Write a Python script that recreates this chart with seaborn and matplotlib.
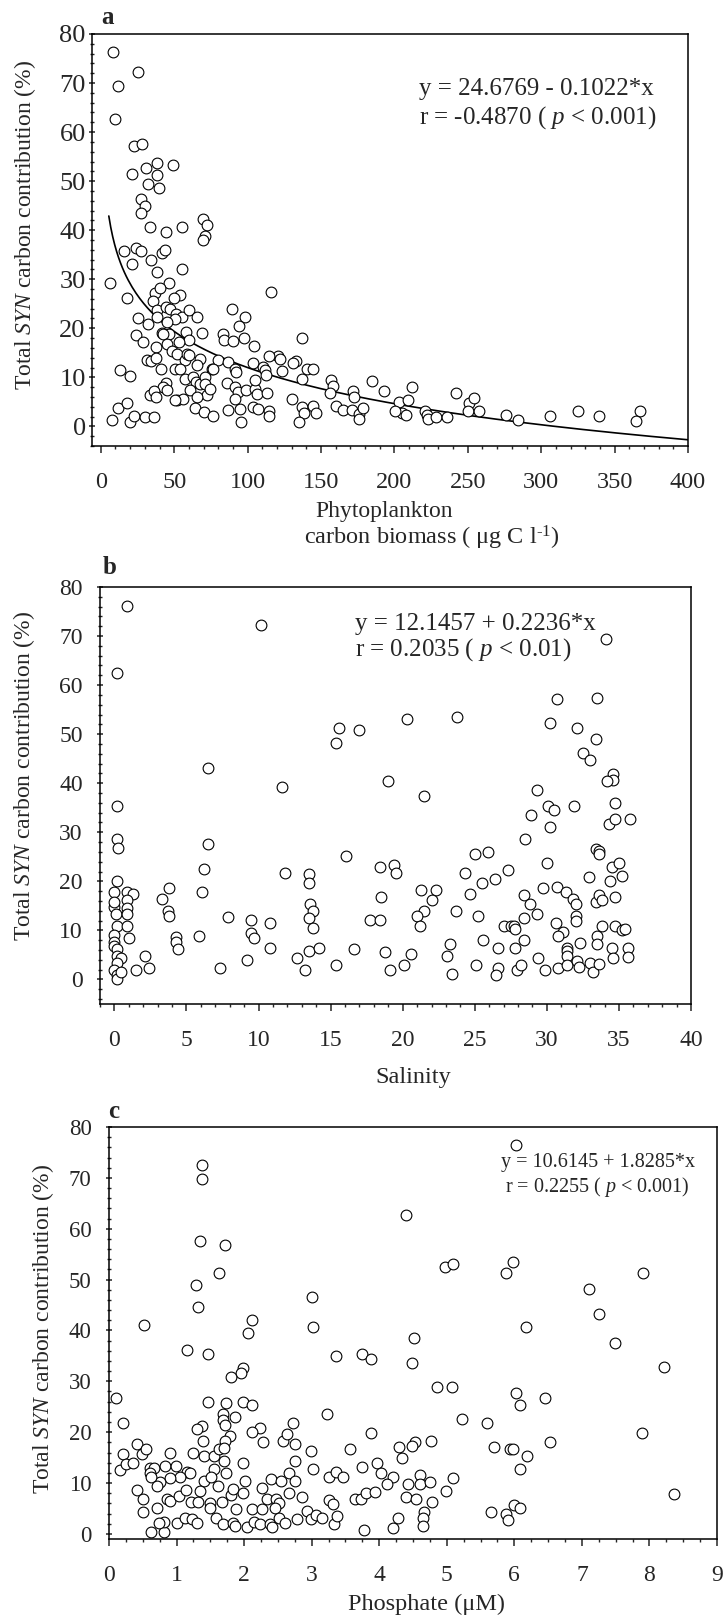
import numpy as np
import pandas as pd
import matplotlib
matplotlib.use("Agg")
import matplotlib.pyplot as plt
import seaborn as sns
from matplotlib.ticker import MultipleLocator

# ---- panel a : phytoplankton carbon biomass vs SYN contribution ----
biomass_x = [8.0, 25.5, 11.8, 9.5, 22.7, 28.0, 31.1, 38.4, 49.3, 21.4, 38.4, 32.3, 39.8, 27.5, 29.8, 27.5,
             33.4, 44.3, 55.2, 69.8, 72.0, 71.1, 69.8, 6.1, 15.7, 23.9, 27.5, 21.4, 34.5, 42.0, 43.6, 38.4,
             55.2, 18.0, 36.8, 35.7, 46.6, 40.5, 53.9, 49.8, 25.0, 32.3, 38.4, 38.4, 44.3, 47.0, 51.1, 55.0,
             60.2, 65.2, 50.7, 57.9, 60.2, 42.0, 46.6, 44.8, 89.1, 98.4, 115.7, 93.9, 97.7, 104.3, 83.4, 84.1,
             89.8, 68.6, 23.9, 28.9, 31.8, 34.5, 37.5, 42.5, 44.8, 37.5, 40.9, 48.2, 52.0, 57.3, 58.9, 67.5,
             65.2, 75.5, 79.5, 86.4, 91.4, 92.0, 103.9, 110.7, 111.8, 120.9, 122.3, 133.0, 123.2, 137.3, 137.1,
             140.2, 144.8, 12.9, 20.2, 44.3, 42.5, 33.6, 36.5, 37.7, 44.8, 52.0, 50.5, 53.9, 60.2, 57.3, 62.5,
             64.8, 60.7, 67.5, 70.9, 70.9, 72.0, 76.1, 74.3, 65.2, 64.1, 70.2, 76.1, 56.1, 50.5, 11.8, 18.0,
             20.2, 22.7, 7.3, 30.0, 36.1, 85.7, 91.4, 93.6, 91.4, 98.9, 105.0, 106.1, 105.0, 113.0, 86.8, 94.8,
             95.2, 103.9, 107.3, 114.8, 114.8, 130.0, 136.8, 138.4, 144.8, 146.6, 135.2, 156.6, 158.4, 156.1,
             160.2, 165.2, 171.6, 171.4, 176.1, 178.4, 184.5, 193.0, 203.4, 205.0, 209.5, 211.8, 200.5, 131.1,
             172.6, 175.9, 208.2, 220.8, 222.0, 223.0, 228.6, 235.8, 242.1, 250.6, 254.4, 250.3, 257.9, 275.8,
             284.3, 305.7, 325.2, 339.3, 367.0, 364.8, 53.1, 112.6, 114.5]
biomass_y = [76.3, 72.3, 69.4, 62.7, 57.2, 57.6, 52.6, 53.6, 53.3, 51.4, 51.2, 49.4, 48.6, 46.4, 45.0, 43.6,
             40.7, 39.7, 40.7, 42.2, 41.0, 38.9, 38.1, 29.3, 35.8, 36.3, 35.8, 33.2, 34.0, 35.4, 35.9, 31.4,
             32.1, 26.1, 27.1, 25.6, 29.3, 28.3, 26.7, 26.1, 22.0, 20.9, 23.7, 22.3, 24.3, 24.0, 22.9, 22.4,
             23.7, 22.4, 21.9, 19.3, 17.6, 19.1, 18.8, 21.2, 23.9, 22.4, 27.4, 20.4, 18.1, 16.3, 18.9, 17.6,
             17.4, 19.1, 18.6, 17.2, 13.5, 13.3, 16.1, 18.8, 16.7, 13.9, 11.8, 15.4, 14.7, 13.6, 14.8, 13.8,
             12.5, 11.8, 13.6, 13.1, 11.8, 11.1, 13.0, 12.2, 11.4, 14.3, 13.7, 13.3, 11.2, 18.1, 9.7,
             11.8, 11.6, 11.4, 10.2, 8.8, 8.0, 6.4, 7.2, 6.0, 7.5, 5.4, 11.6, 11.8, 14.5, 9.6, 10.0,
             9.0, 7.5, 8.7, 10.0, 8.7, 6.3, 11.8, 7.7, 6.0, 3.8, 2.9, 2.2, 5.6, 5.3, 3.8, 4.8,
             0.9, 2.2, 1.2, 1.9, 1.9, 8.8, 8.0, 7.0, 5.6, 7.5, 7.7, 6.7, 9.4, 6.8, 3.4, 3.6,
             0.9, 3.9, 3.6, 3.1, 2.2, 5.6, 4.0, 2.7, 4.1, 2.7, 0.9, 9.4, 8.2, 6.9,
             4.1, 3.4, 7.2, 3.4, 2.6, 3.8, 9.3, 7.3, 5.0, 2.7, 5.4, 8.0, 3.1, 13.0,
             6.0, 1.6, 2.3, 3.2, 2.3, 1.5, 2.0, 2.0, 6.8, 4.8, 5.7, 3.2, 3.2, 2.3,
             1.4, 2.1, 3.2, 2.1, 3.2, 1.1, 17.2, 10.5, 14.4]

# log curve drawn in panel a
FIT_A = 60.9
FIT_B = 10.62
FIT_X0, FIT_X1 = 5.45, 400

# ---- panel b : salinity ----
salinity_x = [0.85, 10.2, 34.1, 0.16, 30.7, 33.5, 23.8, 20.3, 15.6, 17.0, 15.4, 30.2, 32.1, 33.4, 32.5, 33.0,
              6.5, 19.0, 11.6, 21.5, 29.3, 34.6, 34.6, 34.2, 34.7, 31.9, 30.1, 30.5, 28.9, 30.2, 34.3, 34.7,
              35.8, 0.16, 0.16, 0.28, 6.5, 28.5, 33.4, 33.6, 33.6, 16.1, 25.0, 25.9, 6.2, 11.8, 13.5, 13.5,
              18.4, 19.4, 19.5, 24.3, 27.3, 30.0, 32.9, 34.5, 35.0, 35.2, 34.4, 25.5, 26.4, 0.16, 0.0, 0.85,
              1.3, 3.8, 3.3, 6.1, 21.3, 22.3, 22.0, 18.5, 24.7, 29.7, 30.7, 31.3, 31.8, 32.0, 33.4, 33.6,
              33.8, 34.7, 28.4, 28.8, 0.85, 0.85, 0.0, 0.0, 0.13, 0.85, 3.7, 3.8, 13.6, 13.8, 13.5, 13.8,
              7.9, 9.5, 10.8, 21.5, 23.7, 17.7, 18.4, 21.0, 21.2, 25.2, 29.3, 28.4, 32.0, 32.0, 27.0, 27.5,
              27.7, 27.8, 30.6, 31.1, 30.8, 33.8, 34.7, 35.2, 35.4, 33.5, 33.5, 0.16, 0.85, 0.0, 1.0, 0.0,
              0.0, 0.16, 0.16, 0.44, 0.16, 0.0, 0.16, 0.16, 0.44, 1.5, 2.4, 2.1, 4.3, 4.3, 4.4, 5.9,
              9.5, 9.7, 10.8, 9.2, 7.3, 12.7, 13.2, 13.5, 14.2, 15.4, 16.6, 18.8, 19.1, 20.1, 20.6, 23.3,
              23.1, 23.4, 25.1, 25.6, 26.6, 26.6, 26.5, 27.8, 27.9, 28.2, 28.4, 29.4, 29.9, 30.8, 31.4, 31.4,
              31.4, 31.4, 32.1, 32.2, 32.3, 33.0, 33.2, 33.6, 34.5, 34.6, 35.6, 35.6]
salinity_y = [76.2, 72.2, 69.3, 62.5, 57.1, 57.4, 53.4, 53.0, 51.2, 50.9, 48.3, 52.3, 51.2, 49.0, 46.1, 44.7,
              43.2, 40.4, 39.3, 37.5, 38.6, 41.8, 40.7, 40.4, 36.0, 35.3, 35.3, 34.6, 33.5, 31.0, 31.7, 32.8,
              32.8, 35.3, 28.7, 26.9, 27.7, 28.7, 26.6, 26.2, 25.5, 25.2, 25.6, 25.9, 22.6, 21.8, 21.6, 19.7,
              23.0, 23.4, 21.8, 21.8, 22.3, 23.7, 20.9, 23.0, 23.7, 21.1, 20.0, 19.7, 20.5, 20.0, 17.9, 17.9,
              17.5, 18.6, 16.5, 17.9, 18.2, 18.2, 16.1, 16.8, 17.5, 18.7, 18.9, 17.9, 16.5, 15.4, 15.8, 17.2,
              16.1, 16.8, 17.2, 15.4, 16.1, 14.5, 14.8, 15.8, 13.3, 13.3, 14.0, 12.9, 15.4, 14.0, 12.6, 10.4,
              12.8, 12.2, 11.5, 14.0, 14.0, 12.1, 12.1, 12.9, 11.0, 12.9, 13.3, 12.6, 12.9, 11.9, 11.0, 11.0,
              11.0, 10.2, 11.5, 9.7, 8.8, 11.0, 11.0, 10.1, 10.2, 8.9, 7.2, 10.8, 11.0, 9.0, 8.5, 7.6,
              6.9, 6.2, 4.8, 4.4, 3.3, 1.9, 0.85, 0.0, 1.6, 1.9, 2.3, 4.8, 8.7, 7.6, 6.2, 8.8,
              9.5, 8.5, 6.5, 4.0, 2.3, 4.4, 1.9, 5.8, 6.5, 3.0, 6.2, 5.6, 1.9, 3.0, 5.1, 7.2,
              4.8, 1.2, 3.0, 8.1, 6.5, 2.3, 0.85, 6.5, 1.9, 3.0, 8.1, 4.4, 1.9, 2.3, 6.5, 5.8,
              4.8, 3.0, 3.7, 2.6, 7.4, 3.3, 1.6, 3.1, 6.5, 4.4, 6.5, 4.5]

# ---- panel c : phosphate ----
phosphate_x = [6.02, 1.37, 1.37, 4.39, 1.34, 1.71, 1.63, 5.88, 5.98, 4.97, 5.09, 7.90, 1.29, 1.32, 3.00, 3.02,
               7.11, 7.25, 6.18, 7.49, 8.22, 0.52, 2.11, 2.06, 4.52, 4.49, 1.15, 1.47, 3.36, 3.74, 3.88, 1.99,
               1.95, 1.80, 4.85, 5.08, 6.02, 6.09, 6.46, 0.11, 1.47, 1.73, 1.99, 2.12, 1.69, 1.69, 1.87, 1.71,
               0.21, 2.73, 3.23, 5.23, 5.59, 1.37, 1.31, 2.23, 2.12, 7.89, 3.88, 1.39, 1.79, 1.71, 2.28, 2.57,
               2.64, 2.75, 4.77, 4.53, 4.48, 4.30, 6.53, 5.70, 5.94, 5.98, 6.19, 6.09, 0.42, 0.21, 0.49, 0.55,
               0.91, 1.25, 1.40, 1.55, 1.63, 1.70, 1.70, 1.73, 1.55, 1.99, 2.99, 3.02, 3.57, 3.75, 3.96, 4.03,
               4.34, 2.75, 2.66, 0.17, 0.25, 0.35, 0.60, 0.67, 0.60, 0.83, 0.99, 1.15, 1.20, 1.05, 0.91, 0.76,
               0.62, 1.41, 1.51, 1.62, 2.02, 2.26, 2.40, 2.54, 2.76, 3.26, 3.36, 3.47, 4.20, 4.12, 4.42, 4.60,
               4.60, 4.75, 5.09, 0.71, 0.42, 0.50, 0.50, 0.71, 0.86, 0.90, 1.03, 1.14, 1.22, 1.32, 1.34, 1.49,
               1.49, 1.68, 1.80, 1.84, 1.88, 1.99, 2.11, 2.26, 2.34, 2.47, 2.52, 2.45, 2.66, 2.86, 2.93, 3.26,
               3.31, 3.64, 3.73, 3.80, 3.94, 4.39, 4.55, 4.78, 4.99, 4.67, 4.65, 4.65, 5.66, 5.88, 5.90, 6.00,
               6.09, 8.36, 0.62, 0.81, 0.81, 0.74, 1.00, 1.12, 1.23, 1.31, 1.58, 1.69, 1.84, 1.87, 2.04, 2.15,
               2.23, 2.39, 2.41, 2.52, 2.60, 2.78, 2.99, 3.06, 3.15, 3.33, 3.38, 3.78, 4.21, 4.28]
phosphate_y = [76.5, 72.5, 69.7, 62.7, 57.5, 56.8, 51.3, 51.3, 53.4, 52.5, 53.0, 51.3, 48.9, 44.7, 46.5, 40.6,
               48.2, 43.3, 40.6, 37.5, 32.9, 41.0, 42.0, 39.5, 38.5, 33.6, 36.1, 35.3, 35.0, 35.3, 34.4, 32.7,
               31.7, 30.9, 28.9, 28.9, 27.7, 25.3, 26.7, 26.8, 26.0, 25.7, 26.0, 25.3, 23.6, 22.4, 23.0, 21.5,
               21.9, 21.9, 23.6, 22.5, 21.9, 21.3, 20.6, 20.9, 20.0, 19.8, 19.8, 18.3, 19.2, 18.3, 18.0, 18.3,
               19.6, 17.7, 18.3, 18.1, 17.3, 17.0, 18.0, 17.0, 16.6, 16.6, 15.3, 12.8, 17.7, 15.8, 15.8, 16.6,
               16.0, 16.0, 15.3, 15.3, 16.6, 16.8, 14.3, 12.0, 12.8, 13.9, 16.3, 12.8, 16.6, 13.2, 13.9, 12.0,
               14.9, 14.3, 11.9, 12.6, 13.7, 13.9, 12.9, 12.9, 11.9, 13.4, 13.4, 12.2, 12.0, 11.2, 10.9, 10.2,
               11.2, 10.4, 11.1, 9.5, 10.4, 9.0, 10.7, 10.4, 10.4, 11.2, 12.2, 11.1, 11.2, 9.8, 9.8, 11.5,
               9.8, 10.2, 10.9, 9.5, 8.6, 6.8, 4.4, 5.0, 6.8, 6.5, 7.5, 8.7, 6.2, 6.2, 8.5, 6.1,
               5.1, 6.3, 7.6, 8.8, 4.9, 8.1, 4.8, 4.9, 6.8, 6.8, 6.1, 5.0, 8.1, 7.3, 4.6, 6.7,
               5.9, 6.8, 6.8, 8.1, 8.3, 7.3, 6.8, 6.3, 8.4, 4.4, 3.2, 1.5, 4.3, 3.9, 2.7, 5.6,
               5.0, 7.8, 0.3, 0.3, 2.4, 2.2, 2.2, 3.2, 2.9, 2.2, 3.2, 2.0, 2.2, 1.6, 1.4, 2.4,
               2.0, 2.0, 1.4, 3.1, 2.2, 2.9, 2.9, 3.7, 3.2, 2.0, 3.6, 0.8, 1.2, 3.2]

sns.set_style("ticks")
plt.rcParams['font.family'] = ['Liberation Serif', 'DejaVu Serif']
plt.rcParams['mathtext.fontset'] = 'custom'
plt.rcParams['mathtext.rm'] = 'Liberation Serif'
plt.rcParams['mathtext.it'] = 'Liberation Serif:italic'

W, H = 724, 1621
fig = plt.figure(figsize=(W / 100, H / 100), dpi=100)


def box(l, r, t, b):
    return [l / W, 1 - b / H, (r - l) / W, (b - t) / H]


YLAB = 'Total $\\mathit{SYN}$ carbon contribution (%)'
mk = dict(marker='o', s=60, facecolor='white', edgecolor='black', linewidth=0.8, zorder=3, legend=False)


def style(ax, xmaj, xmin, ypad, ysize, xsize):
    ax.yaxis.set_major_locator(MultipleLocator(10))
    ax.yaxis.set_minor_locator(MultipleLocator(2))
    ax.xaxis.set_major_locator(MultipleLocator(xmaj))
    ax.xaxis.set_minor_locator(MultipleLocator(xmin))
    for s in ax.spines.values():
        s.set_visible(True)
        s.set_linewidth(1.1)
        s.set_color('black')
    ax.tick_params(axis='x', which='major', direction='out', length=5, width=1.1, pad=14, labelsize=xsize)
    ax.tick_params(axis='x', which='minor', direction='out', length=2.5, width=1)
    ax.tick_params(axis='y', which='major', direction='inout', length=5, width=1.1, pad=ypad, labelsize=ysize)
    ax.tick_params(axis='y', which='minor', direction='inout', length=2.5, width=1)
    ax.set_ylabel(YLAB, fontsize=17)
    ax.yaxis.label.set_va('center')


# panel a
ax1 = fig.add_axes(box(92, 688, 34, 446))
df_a = pd.DataFrame({'x': biomass_x, 'y': biomass_y})
fx = np.linspace(FIT_X0, FIT_X1, 300)
fit = pd.DataFrame({'x': fx, 'y': FIT_A - FIT_B * np.log(fx)})
sns.lineplot(data=fit, x='x', y='y', color='black', linewidth=1.2, ax=ax1, zorder=2)
sns.scatterplot(data=df_a, x='x', y='y', ax=ax1, **mk)
ax1.set_xlim(-6, 400)
ax1.set_ylim(-4, 80)
style(ax1, 50, 10, 2, 19, 17.5)
ax1.set_xlabel('Phytoplankton', fontsize=17)
ax1.xaxis.set_label_coords(0.49, -0.160)
ax1.xaxis.label.set_va('center')
ax1.text(0.57, -0.223, 'carbon biomass ( \u03bcg C l$^{\\text{-1}}$)', transform=ax1.transAxes,
         ha='center', va='center', fontsize=17.5)
ax1.yaxis.set_label_coords(-0.112, 0.536)
ax1.text(0.745, 0.866, 'y = 24.6769 - 0.1022*x', transform=ax1.transAxes, ha='center', va='center', fontsize=18)
ax1.text(0.748, 0.796, 'r = -0.4870 ( $\\mathit{p}$ < 0.001)', transform=ax1.transAxes, ha='center', va='center', fontsize=18)

# panel b
ax2 = fig.add_axes(box(100, 691, 587, 1004))
df_b = pd.DataFrame({'x': salinity_x, 'y': salinity_y})
sns.scatterplot(data=df_b, x='x', y='y', ax=ax2, **mk)
ax2.set_xlim(-1, 40)
ax2.set_ylim(-5, 80)
style(ax2, 5, 1, 10, 17, 17)
ax2.set_xlabel('Salinity', fontsize=17.5)
ax2.xaxis.set_label_coords(0.53, -0.177)
ax2.xaxis.label.set_va('center')
ax2.yaxis.set_label_coords(-0.129, 0.547)
ax2.text(0.431, 0.911, 'y = 12.1457 + 0.2236*x', transform=ax2.transAxes, ha='left', va='center', fontsize=18)
ax2.text(0.431, 0.850, 'r = 0.2035 ( $\\mathit{p}$ < 0.01)', transform=ax2.transAxes, ha='left', va='center', fontsize=18)

# panel c
ax3 = fig.add_axes(box(109, 717, 1127, 1539))
df_c = pd.DataFrame({'x': phosphate_x, 'y': phosphate_y})
sns.scatterplot(data=df_c, x='x', y='y', ax=ax3, **mk)
ax3.set_xlim(0, 9)
ax3.set_ylim(-1, 80)
style(ax3, 1, 0.25, 10, 16.5, 17)
ax3.set_xlabel('Phosphate (\u03bcM)', fontsize=17.5)
ax3.xaxis.set_label_coords(0.523, -0.158)
ax3.xaxis.label.set_va('center')
ax3.yaxis.set_label_coords(-0.109, 0.51)
ax3.text(0.804, 0.915, 'y = 10.6145 + 1.8285*x', transform=ax3.transAxes, ha='center', va='center', fontsize=14.5)
ax3.text(0.804, 0.854, 'r = 0.2255 ( $\\mathit{p}$ < 0.001)', transform=ax3.transAxes, ha='center', va='center', fontsize=14.5)

# panel letters
for lab, (px, py) in zip(['a', 'b', 'c'], [(107, 18), (110, 568), (114, 1112)]):
    fig.text(px / W, 1 - py / H, lab, fontsize=18, fontweight='bold', ha='center', va='center')

fig.savefig('out.png', dpi=100)
